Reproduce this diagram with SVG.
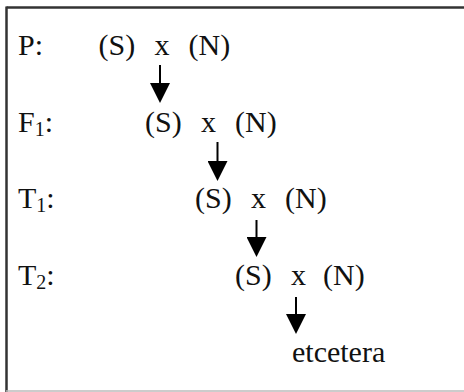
<svg xmlns="http://www.w3.org/2000/svg" width="464" height="392" viewBox="0 0 464 392">
<style>
text{font-size:30px;fill:#111}
.sub{font-size:20px}
.frame{stroke:#333;stroke-width:2.5;fill:none}
.conn{stroke:#000;stroke-width:2;fill:none;marker-end:url(#ah)}
</style>
<defs>
<marker id="ah" viewBox="0 0 20 20" refX="1" refY="10" markerWidth="20" markerHeight="20" markerUnits="userSpaceOnUse" orient="auto">
<path d="M0,0 L20,10 L0,20 z" fill="#000"/>
</marker>
</defs>
<rect width="464" height="392" fill="#fff"/>
<g id="frame">
<line class="frame" x1="6.5" y1="7.5" x2="464" y2="7.5"/>
<line class="frame" x1="6.5" y1="6.5" x2="6.5" y2="392"/>
<line x1="6" y1="391" x2="464" y2="391" stroke="#bbb" stroke-width="1.5"/>
</g>
<g font-family="'Liberation Serif', serif">
<g id="row-P">
<text x="18" y="55">P:</text>
<text y="55"><tspan x="98.5">(S)</tspan><tspan x="154.5">x</tspan><tspan x="188.5">(N)</tspan></text>
</g>
<g id="row-F1">
<text x="18" y="132">F<tspan class="sub" dy="4">1</tspan><tspan dy="-4">:</tspan></text>
<text y="132"><tspan x="145">(S)</tspan><tspan x="201">x</tspan><tspan x="235">(N)</tspan></text>
</g>
<g id="row-T1">
<text x="18" y="208">T<tspan class="sub" dy="4">1</tspan><tspan dy="-4">:</tspan></text>
<text y="208"><tspan x="195">(S)</tspan><tspan x="251">x</tspan><tspan x="285">(N)</tspan></text>
</g>
<g id="row-T2">
<text x="18" y="285">T<tspan class="sub" dy="4">2</tspan><tspan dy="-4">:</tspan></text>
<text y="285"><tspan x="235">(S)</tspan><tspan x="291">x</tspan><tspan x="323">(N)</tspan></text>
</g>
<g id="etcetera">
<text x="292" y="362">etcetera</text>
</g>
</g>
<g id="connectors">
<line class="conn" x1="160" y1="65" x2="160" y2="84"/>
<line class="conn" x1="217.5" y1="142" x2="217.5" y2="162"/>
<line class="conn" x1="256.5" y1="220" x2="256.5" y2="238"/>
<line class="conn" x1="296" y1="297" x2="296" y2="315"/>
</g>
</svg>
